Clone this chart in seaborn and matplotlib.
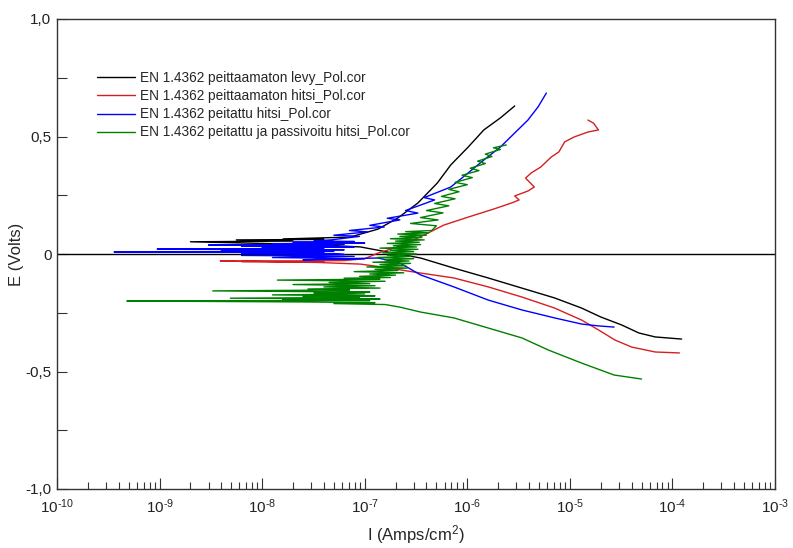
import numpy as np
import pandas as pd
import matplotlib
matplotlib.use("Agg")
import matplotlib.pyplot as plt
import seaborn as sns
from matplotlib.ticker import LogLocator, FixedLocator, FixedFormatter, NullFormatter

# --- data (current in A/cm2, potential in V) ---
labels = [
    "EN 1.4362 peittaamaton levy_Pol.cor",
    "EN 1.4362 peittaamaton hitsi_Pol.cor",
    "EN 1.4362 peitattu hitsi_Pol.cor",
    "EN 1.4362 peitattu ja passivoitu hitsi_Pol.cor",
]
colors = ["#000000", "#d42020", "#0000ff", "#008000"]
x_ticks = [1e-10, 1e-9, 1e-8, 1e-7, 1e-6, 1e-5, 1e-4, 1e-3]
x_exps = ["-10", "-9", "-8", "-7", "-6", "-5", "-4", "-3"]
y_ticks = [-1.0, -0.5, 0.0, 0.5, 1.0]
y_ticklabels = ["-1,0", "-0,5", "0", "0,5", "1,0"]

levy_i = [1.23e-4, 6.8e-5, 4.7e-5, 3.2e-5, 2.0e-5, 1.3e-5, 7.1e-6, 3.4e-6, 1.6e-6, 7.4e-7,
          3.5e-7, 1.6e-7, 9.1e-8, 3.2e-8, 2.0e-9, 2.0e-8, 5.6e-9, 4.0e-8, 1.6e-8, 7.2e-8,
          1.35e-7, 2.1e-7, 3.3e-7, 5.1e-7, 6.9e-7, 1.02e-6, 1.45e-6, 2.1e-6, 2.9e-6]
levy_e = [-0.362, -0.353, -0.336, -0.302, -0.268, -0.230, -0.187, -0.145, -0.102, -0.060,
          -0.017, 0.010, 0.030, 0.040, 0.052, 0.055, 0.060, 0.062, 0.064, 0.072,
          0.106, 0.153, 0.217, 0.302, 0.379, 0.455, 0.528, 0.579, 0.630]

hitsi_i = [1.17e-4, 6.8e-5, 4.0e-5, 2.75e-5, 1.9e-5, 1.3e-5, 7.1e-6, 3.4e-6, 1.6e-6, 7.4e-7,
           3.5e-7, 1.45e-7, 9.1e-8, 3.5e-8, 3.9e-9, 4.0e-8, 6.3e-9, 6.3e-8, 1.0e-7,
           1.35e-7, 2.1e-7, 3.8e-7, 5.9e-7, 1.02e-6, 1.8e-6, 2.7e-6, 3.2e-6, 2.9e-6, 3.9e-6,
           4.5e-6, 3.7e-6, 4.2e-6, 5.2e-6, 6.6e-6, 7.8e-6, 8.9e-6, 1.1e-5, 1.5e-5, 1.9e-5,
           1.7e-5, 1.5e-5]
hitsi_e = [-0.421, -0.417, -0.396, -0.366, -0.323, -0.281, -0.230, -0.183, -0.140, -0.102,
           -0.081, -0.055, -0.043, -0.036, -0.030, -0.033, -0.032, -0.028, -0.020,
           0.004, 0.030, 0.081, 0.123, 0.157, 0.191, 0.217, 0.230, 0.247, 0.268,
           0.285, 0.323, 0.345, 0.370, 0.413, 0.434, 0.477, 0.498, 0.519, 0.528,
           0.557, 0.570]

peit_i = [2.7e-5, 1.9e-5, 1.3e-5, 7.1e-6, 3.4e-6, 1.6e-6, 7.4e-7, 3.5e-7, 2.2e-7, 1.35e-7,
          2.5e-8, 1.0e-7, 1.26e-8, 7.9e-8, 6.3e-9, 6.3e-8, 5.0e-8, 6.3e-9, 4.0e-8, 3.6e-10,
          5.0e-8, 4.0e-9, 6.3e-8, 9.5e-10, 4.0e-8, 1.0e-8, 7.9e-8, 6.3e-9, 5.0e-8, 3.0e-9,
          6.3e-8, 1.26e-8, 1.0e-7, 2.0e-8, 7.9e-8, 3.2e-8, 4.7e-8,
          8.9e-8, 5.0e-8, 1.07e-7, 7.1e-8, 1.55e-7, 1.12e-7, 2.2e-7, 1.66e-7, 3.3e-7, 2.5e-7,
          4.8e-7, 3.8e-7, 6.9e-7, 1.02e-6, 1.45e-6, 2.1e-6, 2.9e-6, 3.9e-6, 4.9e-6, 5.9e-6]
peit_e = [-0.311, -0.306, -0.298, -0.272, -0.238, -0.196, -0.140, -0.089, -0.038, -0.017,
          -0.025, -0.020, -0.015, -0.010, -0.006, -0.002, 0.002, 0.004, 0.006, 0.009,
          0.012, 0.015, 0.018, 0.021, 0.024, 0.027, 0.030, 0.033, 0.036, 0.038,
          0.041, 0.044, 0.047, 0.050, 0.053, 0.056, 0.060,
          0.075, 0.080, 0.094, 0.100, 0.115, 0.122, 0.145, 0.152, 0.174, 0.185,
          0.230, 0.240, 0.285, 0.345, 0.400, 0.455, 0.515, 0.570, 0.626, 0.685]

pass_i = [5.0e-5, 2.7e-5, 1.3e-5, 6.2e-6, 3.4e-6, 1.6e-6, 7.4e-7, 3.5e-7, 2.2e-7,
          # noisy region around Ecorr
          1.58e-7, 5.0e-8, 1.26e-7, 2.5e-8, 4.8e-10, 1.12e-7, 1.58e-8, 1.41e-7, 4.9e-9, 8.9e-8,
          2.5e-8, 1.26e-7, 1.26e-8, 1.0e-7, 3.2e-8, 1.12e-7, 3.3e-9, 7.1e-8, 2.8e-8, 1.41e-7,
          4.0e-8, 1.26e-7, 2.0e-8, 1.12e-7, 4.5e-8, 1.58e-7, 1.41e-8, 1.41e-7, 6.3e-8,
          1.78e-7, 8.9e-8, 2.0e-7, 1.12e-7, 2.4e-7, 7.9e-8, 2.1e-7, 1.26e-7, 2.6e-7, 1.05e-7,
          2.5e-7, 1.41e-7, 2.8e-7, 1.2e-7, 2.7e-7, 1.58e-7, 3.0e-7, 1.32e-7, 2.8e-7, 1.66e-7,
          3.2e-7, 1.5e-7, 3.0e-7, 1.78e-7, 3.3e-7, 1.41e-7, 3.2e-7, 1.9e-7, 3.5e-7, 1.66e-7,
          3.4e-7, 2.0e-7, 3.8e-7, 1.78e-7, 3.6e-7, 2.2e-7, 4.0e-7, 2.1e-7, 4.2e-7, 2.5e-7,
          4.5e-7,
          # anodic branch
          5.0e-7, 2.8e-7, 5.2e-7, 3.5e-7, 5.8e-7, 4.0e-7, 6.6e-7, 4.8e-7, 7.6e-7, 5.6e-7,
          8.3e-7, 6.6e-7, 1.0e-6, 7.6e-7, 1.12e-6, 8.9e-7, 1.3e-6, 1.07e-6, 1.5e-6, 1.26e-6,
          1.74e-6, 1.5e-6, 2.1e-6, 1.8e-6, 2.4e-6]
pass_e = [-0.532, -0.515, -0.464, -0.409, -0.357, -0.315, -0.272, -0.247, -0.226,
          -0.215, -0.211, -0.207, -0.204, -0.200, -0.198, -0.195, -0.192, -0.188, -0.185,
          -0.181, -0.178, -0.174, -0.170, -0.166, -0.162, -0.157, -0.153, -0.149, -0.145,
          -0.140, -0.135, -0.130, -0.126, -0.121, -0.116, -0.111, -0.107, -0.103,
          -0.100, -0.095, -0.090, -0.085, -0.080, -0.075, -0.070, -0.065, -0.060, -0.055,
          -0.050, -0.045, -0.040, -0.035, -0.030, -0.025, -0.020, -0.015, -0.010, -0.005,
          0.000, 0.005, 0.010, 0.015, 0.020, 0.025, 0.030, 0.035, 0.040, 0.045,
          0.050, 0.055, 0.060, 0.065, 0.070, 0.075, 0.080, 0.085, 0.090, 0.095,
          0.100,
          0.120, 0.130, 0.145, 0.155, 0.175, 0.185, 0.205, 0.215, 0.235, 0.245,
          0.265, 0.275, 0.295, 0.305, 0.325, 0.335, 0.355, 0.365, 0.385, 0.395,
          0.415, 0.425, 0.445, 0.452, 0.464]

series = [(levy_i, levy_e), (hitsi_i, hitsi_e), (peit_i, peit_e), (pass_i, pass_e)]

sns.set_style("white")
plt.rcParams["font.family"] = ["Liberation Sans", "DejaVu Sans"]
plt.rcParams["mathtext.fontset"] = "custom"
plt.rcParams["mathtext.rm"] = "Liberation Sans"
plt.rcParams["mathtext.it"] = "Liberation Sans:italic"
plt.rcParams["axes.unicode_minus"] = False

fig = plt.figure(figsize=(7.93, 5.48), dpi=100)
ax = fig.add_axes([57 / 793, 1 - 489 / 548, 718 / 793, 470 / 548])

ax.axhline(0, color="black", lw=1.0, zorder=1)

for (cur, pot), lab, col in zip(series, labels, colors):
    df = pd.DataFrame({"I": cur, "E": pot})
    sns.lineplot(data=df, x="I", y="E", sort=False, estimator=None, color=col,
                 lw=1.0, label=lab, ax=ax)

ax.set_xscale("log")
ax.set_xlim(1e-10, 1e-3)
ax.set_ylim(-1.0, 1.0)

# exponent written as text so it keeps the plain hyphen of the original
ax.xaxis.set_major_locator(FixedLocator(x_ticks))
ax.xaxis.set_major_formatter(FixedFormatter([r"$10^{\text{%s}}$" % e for e in x_exps]))
ax.xaxis.set_minor_locator(LogLocator(base=10, subs=np.arange(2, 10), numticks=20))
ax.xaxis.set_minor_formatter(NullFormatter())
ax.yaxis.set_major_locator(FixedLocator(y_ticks))
ax.yaxis.set_major_formatter(FixedFormatter(y_ticklabels))
ax.yaxis.set_minor_locator(FixedLocator([-0.75, -0.25, 0.25, 0.75]))

ax.tick_params(axis="both", which="both", direction="in", colors="#333333",
               labelcolor="#222222", labelsize=11, top=False, right=False,
               bottom=True, left=True)
ax.tick_params(axis="x", which="major", length=8, width=0.8, pad=6)
ax.tick_params(axis="x", which="minor", length=5, width=0.8)
ax.tick_params(axis="y", which="both", length=7, width=0.8, pad=4)

for sp in ax.spines.values():
    sp.set_color("#333333")
    sp.set_linewidth(1.0)

ax.set_xlabel("I (Amps/cm$^2$)", fontsize=12, labelpad=5)
ax.set_ylabel("E (Volts)", fontsize=12, labelpad=1)

leg = ax.legend(loc="upper left", bbox_to_anchor=(0.0557, 0.889), frameon=False,
                fontsize=9.8, handlelength=2.8, handletextpad=0.37, labelspacing=0.3,
                borderpad=0, borderaxespad=0)
for line in leg.get_lines():
    line.set_linewidth(1.0)

fig.savefig("out.png", dpi=100)
